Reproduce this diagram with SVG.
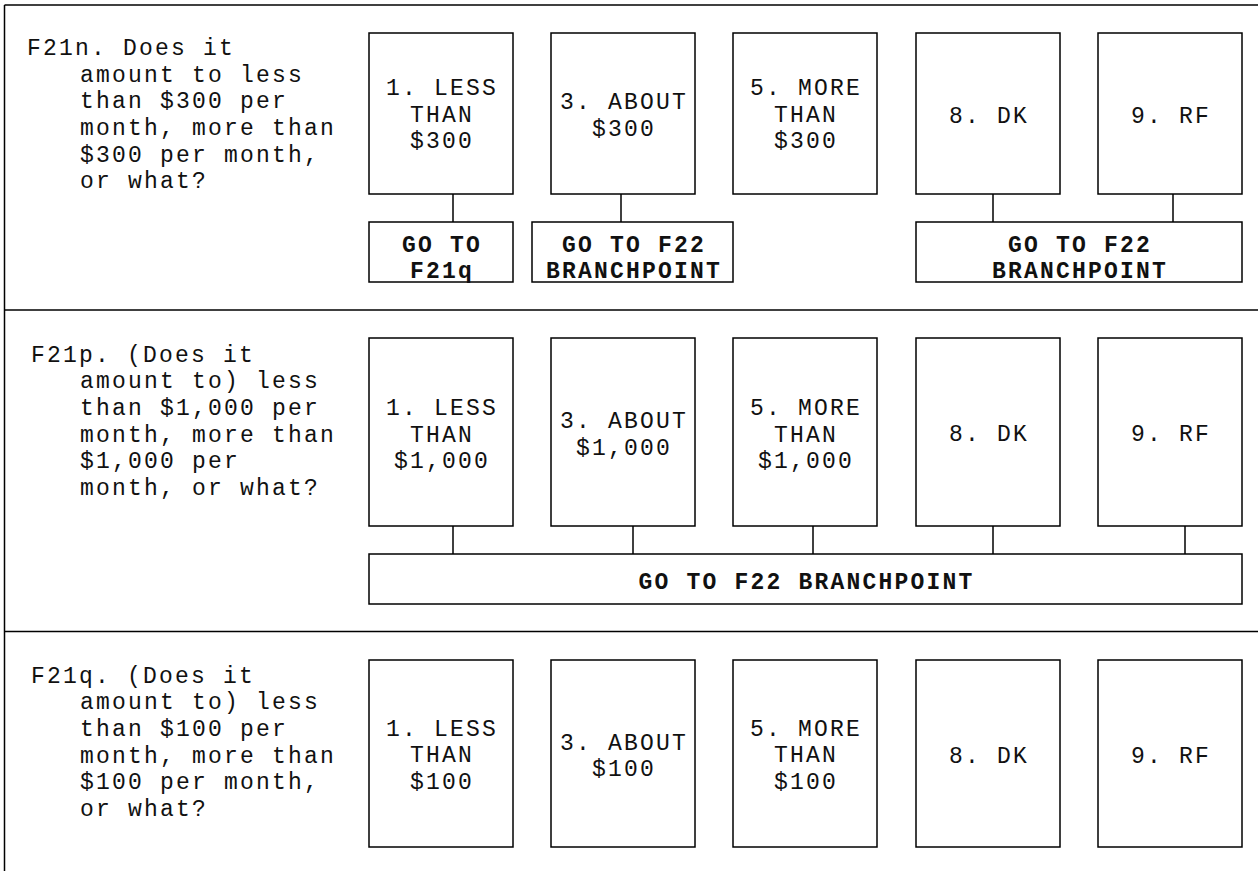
<svg xmlns="http://www.w3.org/2000/svg" width="1258" height="871" viewBox="0 0 1258 871">
<style>
  .frame { stroke: #000; stroke-width: 1.5; fill: none; }
  .box { fill: #fff; stroke: #000; stroke-width: 1.5; }
  .conn { stroke: #000; stroke-width: 1.5; fill: none; }
  text { font-family: "Liberation Mono", "Courier New", monospace; font-size: 23px; letter-spacing: 2.2px; fill: #111; }
  .c { text-anchor: middle; }
  .b { font-weight: bold; }
</style>
<rect width="1258" height="871" fill="#fff"/>
<g id="frame">
  <line class="frame" x1="4.5" y1="5" x2="1258" y2="5"/>
  <line class="frame" x1="4.5" y1="5" x2="4.5" y2="871"/>
  <line class="frame" x1="4.5" y1="310" x2="1258" y2="310"/>
  <line class="frame" x1="4.5" y1="631.5" x2="1258" y2="631.5"/>
</g>
<g id="connectors">
  <line class="conn" x1="453" y1="194" x2="453" y2="222"/>
  <line class="conn" x1="621" y1="194" x2="621" y2="222"/>
  <line class="conn" x1="993" y1="194" x2="993" y2="222"/>
  <line class="conn" x1="1173" y1="194" x2="1173" y2="222"/>
  <line class="conn" x1="453" y1="526" x2="453" y2="554"/>
  <line class="conn" x1="633" y1="526" x2="633" y2="554"/>
  <line class="conn" x1="813" y1="526" x2="813" y2="554"/>
  <line class="conn" x1="993" y1="526" x2="993" y2="554"/>
  <line class="conn" x1="1185" y1="526" x2="1185" y2="554"/>
</g>
<g id="q-F21n">
  <text x="27" y="55">F21n. Does it</text>
  <text x="80" y="81.7">amount to less</text>
  <text x="80" y="108.3">than $300 per</text>
  <text x="80" y="135">month, more than</text>
  <text x="80" y="161.7">$300 per month,</text>
  <text x="80" y="188.3">or what?</text>
</g>
<g id="n1-less300">
  <rect class="box" x="369" y="33" width="144" height="161"/>
  <text class="c" x="442" y="95">1. LESS</text>
  <text class="c" x="442" y="121.7">THAN</text>
  <text class="c" x="442" y="148.3">$300</text>
</g>
<g id="n1-about300">
  <rect class="box" x="551" y="33" width="144" height="161"/>
  <text class="c" x="624" y="109.3">3. ABOUT</text>
  <text class="c" x="624" y="135.5">$300</text>
</g>
<g id="n1-more300">
  <rect class="box" x="733" y="33" width="144" height="161"/>
  <text class="c" x="806" y="95">5. MORE</text>
  <text class="c" x="806" y="121.7">THAN</text>
  <text class="c" x="806" y="148.3">$300</text>
</g>
<g id="n1-dk">
  <rect class="box" x="916" y="33" width="144" height="161"/>
  <text class="c" x="989" y="122.7">8. DK</text>
</g>
<g id="n1-rf">
  <rect class="box" x="1098" y="33" width="144" height="161"/>
  <text class="c" x="1171" y="122.7">9. RF</text>
</g>
<g id="n1-goto-f21q">
  <rect class="box" x="369" y="222" width="144" height="60"/>
  <text class="c b" x="442" y="251.7">GO TO</text>
  <text class="c b" x="442" y="278.3">F21q</text>
</g>
<g id="n1-goto-f22-a">
  <rect class="box" x="532" y="222" width="201" height="60"/>
  <text class="c b" x="634" y="251.7">GO TO F22</text>
  <text class="c b" x="634" y="278.3">BRANCHPOINT</text>
</g>
<g id="n1-goto-f22-b">
  <rect class="box" x="916" y="222" width="326" height="60"/>
  <text class="c b" x="1080" y="251.7">GO TO F22</text>
  <text class="c b" x="1080" y="278.3">BRANCHPOINT</text>
</g>
<g id="q-F21p">
  <text x="31" y="361.7">F21p. (Does it</text>
  <text x="80" y="388.3">amount to) less</text>
  <text x="80" y="415">than $1,000 per</text>
  <text x="80" y="441.7">month, more than</text>
  <text x="80" y="468.3">$1,000 per</text>
  <text x="80" y="495">month, or what?</text>
</g>
<g id="n2-less1000">
  <rect class="box" x="369" y="338" width="144" height="188"/>
  <text class="c" x="442" y="415">1. LESS</text>
  <text class="c" x="442" y="441.7">THAN</text>
  <text class="c" x="442" y="468.3">$1,000</text>
</g>
<g id="n2-about1000">
  <rect class="box" x="551" y="338" width="144" height="188"/>
  <text class="c" x="624" y="428.3">3. ABOUT</text>
  <text class="c" x="624" y="455">$1,000</text>
</g>
<g id="n2-more1000">
  <rect class="box" x="733" y="338" width="144" height="188"/>
  <text class="c" x="806" y="415">5. MORE</text>
  <text class="c" x="806" y="441.7">THAN</text>
  <text class="c" x="806" y="468.3">$1,000</text>
</g>
<g id="n2-dk">
  <rect class="box" x="916" y="338" width="144" height="188"/>
  <text class="c" x="989" y="440.7">8. DK</text>
</g>
<g id="n2-rf">
  <rect class="box" x="1098" y="338" width="144" height="188"/>
  <text class="c" x="1171" y="440.7">9. RF</text>
</g>
<g id="n2-goto-f22">
  <rect class="box" x="369" y="554" width="873" height="50"/>
  <text class="c b" x="806.5" y="589.3">GO TO F22 BRANCHPOINT</text>
</g>
<g id="q-F21q">
  <text x="31" y="682.7">F21q. (Does it</text>
  <text x="80" y="709.3">amount to) less</text>
  <text x="80" y="736">than $100 per</text>
  <text x="80" y="762.7">month, more than</text>
  <text x="80" y="789.3">$100 per month,</text>
  <text x="80" y="816">or what?</text>
</g>
<g id="n3-less100">
  <rect class="box" x="369" y="660" width="144" height="187"/>
  <text class="c" x="442" y="735.7">1. LESS</text>
  <text class="c" x="442" y="762.3">THAN</text>
  <text class="c" x="442" y="789">$100</text>
</g>
<g id="n3-about100">
  <rect class="box" x="551" y="660" width="144" height="187"/>
  <text class="c" x="624" y="750">3. ABOUT</text>
  <text class="c" x="624" y="775.7">$100</text>
</g>
<g id="n3-more100">
  <rect class="box" x="733" y="660" width="144" height="187"/>
  <text class="c" x="806" y="735.7">5. MORE</text>
  <text class="c" x="806" y="762.3">THAN</text>
  <text class="c" x="806" y="789">$100</text>
</g>
<g id="n3-dk">
  <rect class="box" x="916" y="660" width="144" height="187"/>
  <text class="c" x="989" y="763.3">8. DK</text>
</g>
<g id="n3-rf">
  <rect class="box" x="1098" y="660" width="144" height="187"/>
  <text class="c" x="1171" y="763.3">9. RF</text>
</g>
</svg>
